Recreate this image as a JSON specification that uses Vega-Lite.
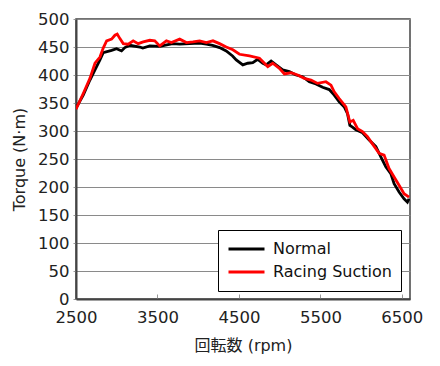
{
  "$schema": "https://vega.github.io/schema/vega-lite/v6.json",
  "width": 334,
  "height": 280,
  "autosize": {"type": "none"},
  "padding": {"left": 76, "top": 19, "right": 30, "bottom": 67},
  "background": "white",
  "config": {
    "font": "DejaVu Sans, Noto Sans CJK JP",
    "view": {"stroke": "#444", "strokeWidth": 1.5},
    "axis": {
      "labelFont": "DejaVu Sans",
      "labelFontSize": 16.5,
      "labelColor": "#222",
      "labelFlush": false,
      "titleFont": "DejaVu Sans, Noto Sans CJK JP",
      "titleFontSize": 16,
      "titleFontWeight": "normal",
      "titleColor": "#222",
      "gridColor": "#8a8a8a",
      "gridWidth": 1,
      "gridOpacity": 1,
      "domainColor": "#444",
      "domainWidth": 2,
      "tickColor": "#999"
    }
  },
  "data": {
    "values": [
      {"rpm": 2500, "torque": 341, "series": "Normal"},
      {"rpm": 2589, "torque": 364, "series": "Normal"},
      {"rpm": 2671, "torque": 391, "series": "Normal"},
      {"rpm": 2733, "torque": 409, "series": "Normal"},
      {"rpm": 2794, "torque": 427, "series": "Normal"},
      {"rpm": 2834, "torque": 440, "series": "Normal"},
      {"rpm": 2937, "torque": 444, "series": "Normal"},
      {"rpm": 2998, "torque": 447, "series": "Normal"},
      {"rpm": 3059, "torque": 443, "series": "Normal"},
      {"rpm": 3100, "torque": 449, "series": "Normal"},
      {"rpm": 3161, "torque": 453, "series": "Normal"},
      {"rpm": 3283, "torque": 450, "series": "Normal"},
      {"rpm": 3320, "torque": 448, "series": "Normal"},
      {"rpm": 3406, "torque": 452, "series": "Normal"},
      {"rpm": 3528, "torque": 451, "series": "Normal"},
      {"rpm": 3687, "torque": 456, "series": "Normal"},
      {"rpm": 3773, "torque": 455, "series": "Normal"},
      {"rpm": 3895, "torque": 456, "series": "Normal"},
      {"rpm": 4018, "torque": 457, "series": "Normal"},
      {"rpm": 4100, "torque": 455, "series": "Normal"},
      {"rpm": 4177, "torque": 453, "series": "Normal"},
      {"rpm": 4262, "torque": 449, "series": "Normal"},
      {"rpm": 4344, "torque": 443, "series": "Normal"},
      {"rpm": 4422, "torque": 434, "series": "Normal"},
      {"rpm": 4467, "torque": 427, "series": "Normal"},
      {"rpm": 4548, "torque": 418, "series": "Normal"},
      {"rpm": 4609, "torque": 421, "series": "Normal"},
      {"rpm": 4670, "torque": 422, "series": "Normal"},
      {"rpm": 4731, "torque": 428, "series": "Normal"},
      {"rpm": 4793, "torque": 421, "series": "Normal"},
      {"rpm": 4834, "torque": 418, "series": "Normal"},
      {"rpm": 4895, "torque": 425, "series": "Normal"},
      {"rpm": 4956, "torque": 418, "series": "Normal"},
      {"rpm": 5037, "torque": 409, "series": "Normal"},
      {"rpm": 5119, "torque": 406, "series": "Normal"},
      {"rpm": 5201, "torque": 400, "series": "Normal"},
      {"rpm": 5282, "torque": 397, "series": "Normal"},
      {"rpm": 5364, "torque": 388, "series": "Normal"},
      {"rpm": 5446, "torque": 384, "series": "Normal"},
      {"rpm": 5527, "torque": 378, "series": "Normal"},
      {"rpm": 5609, "torque": 374, "series": "Normal"},
      {"rpm": 5670, "torque": 364, "series": "Normal"},
      {"rpm": 5731, "torque": 352, "series": "Normal"},
      {"rpm": 5793, "torque": 343, "series": "Normal"},
      {"rpm": 5833, "torque": 331, "series": "Normal"},
      {"rpm": 5862, "torque": 310, "series": "Normal"},
      {"rpm": 5894, "torque": 307, "series": "Normal"},
      {"rpm": 5936, "torque": 302, "series": "Normal"},
      {"rpm": 6017, "torque": 297, "series": "Normal"},
      {"rpm": 6099, "torque": 284, "series": "Normal"},
      {"rpm": 6181, "torque": 272, "series": "Normal"},
      {"rpm": 6242, "torque": 254, "series": "Normal"},
      {"rpm": 6303, "torque": 236, "series": "Normal"},
      {"rpm": 6364, "torque": 224, "series": "Normal"},
      {"rpm": 6405, "torque": 206, "series": "Normal"},
      {"rpm": 6466, "torque": 191, "series": "Normal"},
      {"rpm": 6527, "torque": 179, "series": "Normal"},
      {"rpm": 6568, "torque": 173, "series": "Normal"},
      {"rpm": 6588, "torque": 179, "series": "Normal"},
      {"rpm": 2500, "torque": 339, "series": "Racing Suction"},
      {"rpm": 2589, "torque": 367, "series": "Racing Suction"},
      {"rpm": 2671, "torque": 394, "series": "Racing Suction"},
      {"rpm": 2733, "torque": 421, "series": "Racing Suction"},
      {"rpm": 2794, "torque": 432, "series": "Racing Suction"},
      {"rpm": 2834, "torque": 448, "series": "Racing Suction"},
      {"rpm": 2876, "torque": 461, "series": "Racing Suction"},
      {"rpm": 2937, "torque": 464, "series": "Racing Suction"},
      {"rpm": 2978, "torque": 471, "series": "Racing Suction"},
      {"rpm": 3006, "torque": 473, "series": "Racing Suction"},
      {"rpm": 3039, "torque": 465, "series": "Racing Suction"},
      {"rpm": 3080, "torque": 456, "series": "Racing Suction"},
      {"rpm": 3141, "torque": 455, "series": "Racing Suction"},
      {"rpm": 3202, "torque": 461, "series": "Racing Suction"},
      {"rpm": 3263, "torque": 456, "series": "Racing Suction"},
      {"rpm": 3325, "torque": 459, "series": "Racing Suction"},
      {"rpm": 3406, "torque": 462, "series": "Racing Suction"},
      {"rpm": 3467, "torque": 461, "series": "Racing Suction"},
      {"rpm": 3528, "torque": 452, "series": "Racing Suction"},
      {"rpm": 3610, "torque": 461, "series": "Racing Suction"},
      {"rpm": 3671, "torque": 458, "series": "Racing Suction"},
      {"rpm": 3773, "torque": 464, "series": "Racing Suction"},
      {"rpm": 3855, "torque": 458, "series": "Racing Suction"},
      {"rpm": 3936, "torque": 459, "series": "Racing Suction"},
      {"rpm": 4018, "torque": 461, "series": "Racing Suction"},
      {"rpm": 4100, "torque": 458, "series": "Racing Suction"},
      {"rpm": 4181, "torque": 461, "series": "Racing Suction"},
      {"rpm": 4262, "torque": 456, "series": "Racing Suction"},
      {"rpm": 4344, "torque": 450, "series": "Racing Suction"},
      {"rpm": 4426, "torque": 445, "series": "Racing Suction"},
      {"rpm": 4507, "torque": 437, "series": "Racing Suction"},
      {"rpm": 4630, "torque": 434, "series": "Racing Suction"},
      {"rpm": 4752, "torque": 430, "series": "Racing Suction"},
      {"rpm": 4813, "torque": 421, "series": "Racing Suction"},
      {"rpm": 4854, "torque": 415, "series": "Racing Suction"},
      {"rpm": 4915, "torque": 421, "series": "Racing Suction"},
      {"rpm": 4997, "torque": 412, "series": "Racing Suction"},
      {"rpm": 5058, "torque": 402, "series": "Racing Suction"},
      {"rpm": 5140, "torque": 404, "series": "Racing Suction"},
      {"rpm": 5221, "torque": 400, "series": "Racing Suction"},
      {"rpm": 5303, "torque": 394, "series": "Racing Suction"},
      {"rpm": 5385, "torque": 391, "series": "Racing Suction"},
      {"rpm": 5466, "torque": 385, "series": "Racing Suction"},
      {"rpm": 5568, "torque": 388, "series": "Racing Suction"},
      {"rpm": 5630, "torque": 382, "series": "Racing Suction"},
      {"rpm": 5670, "torque": 370, "series": "Racing Suction"},
      {"rpm": 5731, "torque": 358, "series": "Racing Suction"},
      {"rpm": 5813, "torque": 343, "series": "Racing Suction"},
      {"rpm": 5862, "torque": 316, "series": "Racing Suction"},
      {"rpm": 5903, "torque": 319, "series": "Racing Suction"},
      {"rpm": 5956, "torque": 304, "series": "Racing Suction"},
      {"rpm": 6017, "torque": 299, "series": "Racing Suction"},
      {"rpm": 6078, "torque": 290, "series": "Racing Suction"},
      {"rpm": 6139, "torque": 277, "series": "Racing Suction"},
      {"rpm": 6221, "torque": 260, "series": "Racing Suction"},
      {"rpm": 6282, "torque": 257, "series": "Racing Suction"},
      {"rpm": 6343, "torque": 233, "series": "Racing Suction"},
      {"rpm": 6405, "torque": 218, "series": "Racing Suction"},
      {"rpm": 6466, "torque": 203, "series": "Racing Suction"},
      {"rpm": 6527, "torque": 188, "series": "Racing Suction"},
      {"rpm": 6588, "torque": 182, "series": "Racing Suction"}
    ]
  },
  "mark": {"type": "line", "strokeWidth": 2.8, "clip": true},
  "encoding": {
    "x": {
      "field": "rpm",
      "type": "quantitative",
      "scale": {"domain": [2500, 6600], "nice": false, "zero": false},
      "axis": {
        "title": "回転数 (rpm)",
        "values": [2500, 3500, 4500, 5500, 6500],
        "format": "d",
        "grid": false,
        "tickSize": -5,
        "labelPadding": 15,
        "titlePadding": 12
      }
    },
    "y": {
      "field": "torque",
      "type": "quantitative",
      "scale": {"domain": [0, 500], "nice": false},
      "axis": {
        "title": "Torque (N·m)",
        "values": [0, 50, 100, 150, 200, 250, 300, 350, 400, 450, 500],
        "tickSize": 3,
        "labelPadding": 4,
        "titlePadding": 10
      }
    },
    "color": {
      "field": "series",
      "type": "nominal",
      "scale": {"domain": ["Normal", "Racing Suction"], "range": ["#000000", "#ff0000"]},
      "legend": {
        "title": null,
        "orient": "none",
        "legendX": 142,
        "legendY": 211,
        "strokeColor": "#000",
        "fillColor": "white",
        "padding": 9,
        "symbolType": "stroke",
        "symbolSize": 1296,
        "symbolStrokeWidth": 3,
        "clipHeight": 20,
        "labelFontSize": 16,
        "labelColor": "#111",
        "labelFont": "DejaVu Sans",
        "rowPadding": 3,
        "labelOffset": 7
      }
    }
  }
}
